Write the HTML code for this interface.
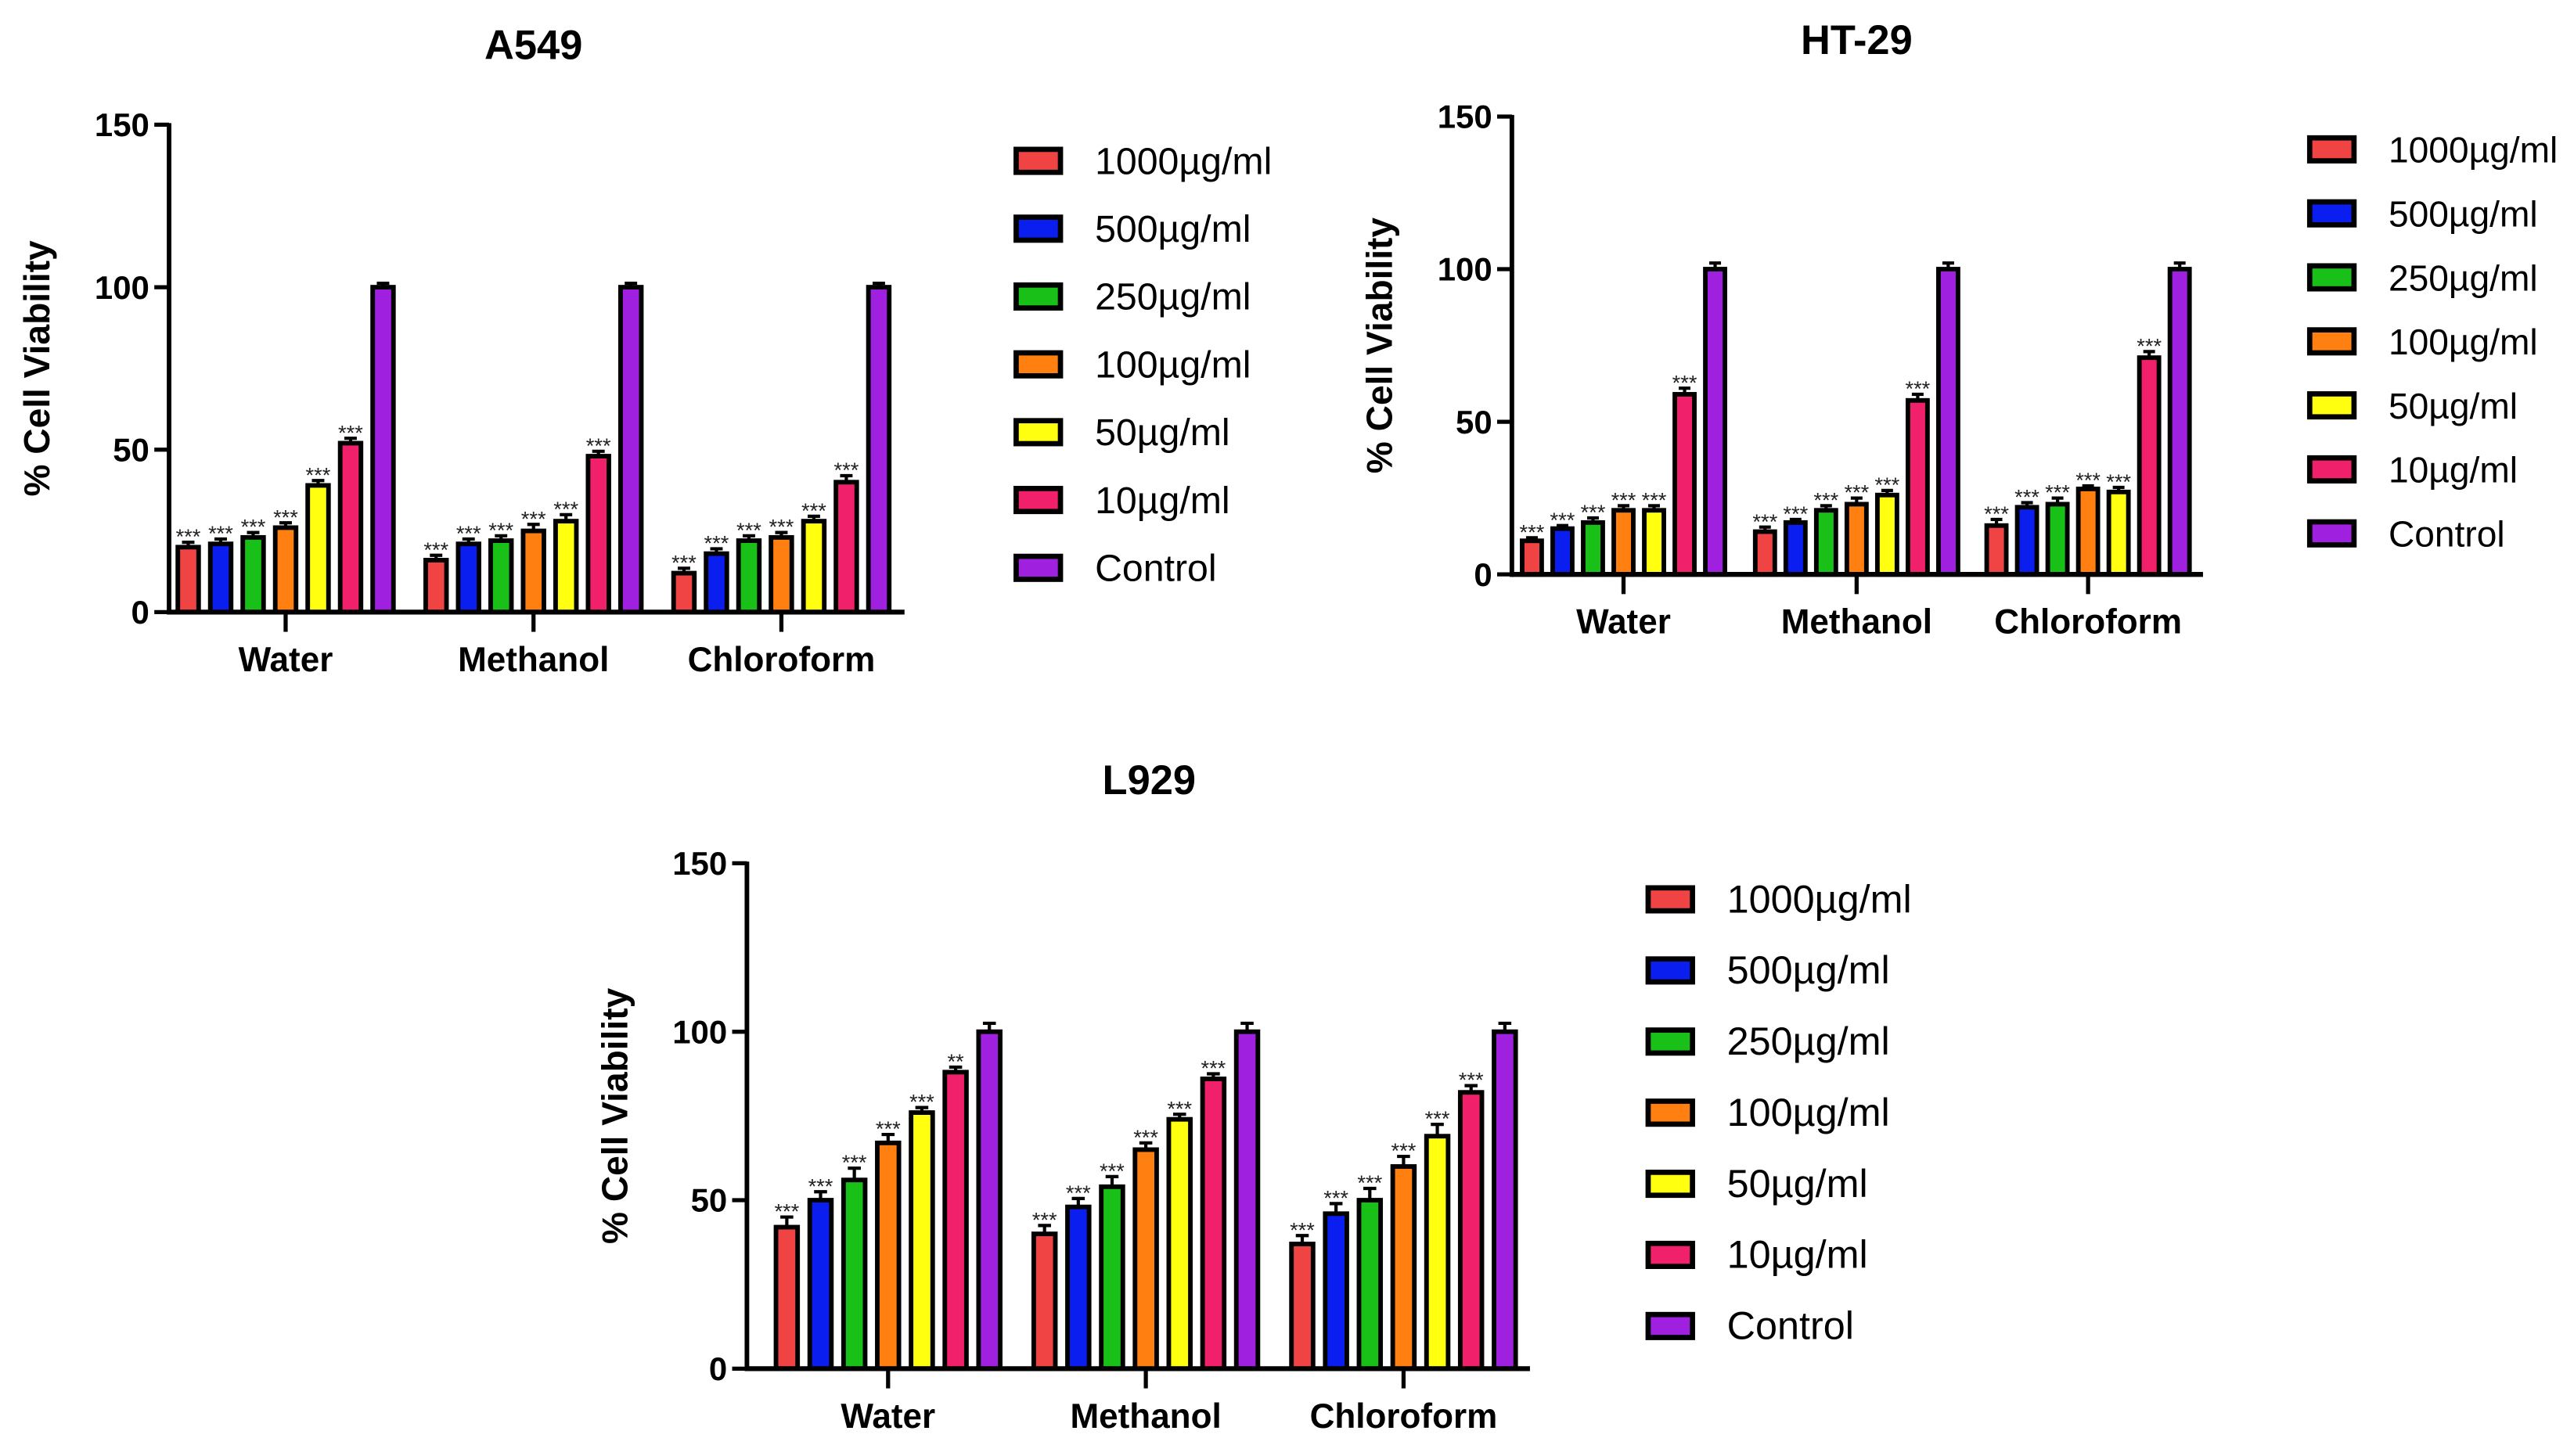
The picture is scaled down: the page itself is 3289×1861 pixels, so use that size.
<!DOCTYPE html>
<html><head><meta charset="utf-8"><style>
html,body{margin:0;padding:0;background:#fff;}
svg{display:block;font-family:"Liberation Sans",sans-serif;}
</style></head><body>
<svg id="fig" width="3289" height="1861" viewBox="0 0 1568 887.2" xmlns="http://www.w3.org/2000/svg"></svg>
<script>
const seriesNames = ["1000µg/ml","500µg/ml","250µg/ml","100µg/ml","50µg/ml","10µg/ml","Control"];
const seriesColors = ["#f04444","#0a1ef0","#18c018","#ff8010","#ffff10","#f0206a","#a020e0"];
const categories = ["Water","Methanol","Chloroform"];
const yTicks = [0,50,100,150];
const a549Values = [[20,21,23,26,39,52,100],[16,21,22,25,28,48,100],[12,18,22,23,28,40,100]];
const a549Errors = [[1.5,1.5,1.5,1.5,1.5,1.5,1.2],[1.5,1.5,1.5,2,2,1.5,1.2],[1.5,1.5,1.5,1.5,1.5,2,1.2]];
const a549Stars = [["***","***","***","***","***","***",""],["***","***","***","***","***","***",""],["***","***","***","***","***","***",""]];
const ht29Values = [[11,15,17,21,21,59,100],[14,17,21,23,26,57,100],[16,22,23,28,27,71,100]];
const ht29Errors = [[1,1,1.5,1.5,1.5,2,2],[1.5,1,1.5,2,1.5,2,2],[2,1.5,2,1,1.5,2,2]];
const ht29Stars = [["***","***","***","***","***","***",""],["***","***","***","***","***","***",""],["***","***","***","***","***","***",""]];
const l929Values = [[42,50,56,67,76,88,100],[40,48,54,65,74,86,100],[37,46,50,60,69,82,100]];
const l929Errors = [[3,2.5,3.5,2.5,1.5,1.5,2.5],[2.5,2.5,3,2,1.5,1.5,2.5],[2.5,3,3.5,3,3.5,2,2.5]];
const l929Stars = [["***","***","***","***","***","**",""],["***","***","***","***","***","***",""],["***","***","***","***","***","***",""]];

const NS="http://www.w3.org/2000/svg";
const svg=document.getElementById('fig');
function mk(tag,attrs,parent,text){const e=document.createElementNS(NS,tag);for(const k in attrs)e.setAttribute(k,attrs[k]);if(text!==undefined)e.textContent=text;(parent||svg).appendChild(e);return e;}

function chart(cfg,values,errors,stars){
  const g=mk('g',{});
  
  
  const y=v=>cfg.y0-(v/150)*(cfg.y0-cfg.y150);
  const spacing=cfg.centers[1]-cfg.centers[0];
  const step=spacing*0.131, bw=step*0.64;
  const t=mk('text',{x:cfg.titleX,y:cfg.titleY,'text-anchor':'middle','font-size':25,'font-weight':'bold'},g,cfg.title);
  
  
  const yt=mk('text',{transform:`translate(${cfg.ax-73},${(cfg.y0+cfg.y150)/2}) rotate(-90)`,'text-anchor':'middle','font-size':22,'font-weight':'bold'},g,'% Cell Viability');
  
  
  yTicks.forEach(v=>{
    mk('line',{x1:cfg.ax-9,x2:cfg.ax,y1:y(v),y2:y(v),stroke:'#000','stroke-width':2.5},g);
    const tl=mk('text',{x:cfg.ax-12,y:y(v)+7,'text-anchor':'end','font-size':20,'font-weight':'bold'},g,String(v));
    
    
  });
  categories.forEach((c,ci)=>{
    const cx=cfg.centers[ci];
    values[ci].forEach((v,si)=>{
      const bx=cx+(si-3)*step-bw/2;
      const e=errors[ci][si];
      mk('line',{x1:bx+bw/2,x2:bx+bw/2,y1:y(v),y2:y(v+e),stroke:'#000','stroke-width':2},g);
      mk('line',{x1:bx+bw*0.2,x2:bx+bw*0.8,y1:y(v+e),y2:y(v+e),stroke:'#000','stroke-width':2},g);
      const r=mk('rect',{x:bx,y:y(v),width:bw,height:y(0)-y(v),fill:seriesColors[si],stroke:'#000','stroke-width':2.8},g);
      
      
      if(stars[ci][si]){
        const s=mk('text',{x:bx+bw/2,y:y(v+e)+1,'text-anchor':'middle','font-size':13,fill:'#222'},g,stars[ci][si]);
        
        
      }
    });
    mk('line',{x1:cx,x2:cx,y1:cfg.y0,y2:cfg.y0+12,stroke:'#000','stroke-width':2.5},g);
    const cl=mk('text',{x:cx,y:cfg.y0+36,'text-anchor':'middle','font-size':21,'font-weight':'bold'},g,c);
    
    
  });
  const ya=mk('line',{x1:cfg.ax,x2:cfg.ax,y1:cfg.y150-1,y2:cfg.y0+1.5,stroke:'#000','stroke-width':2.8},g);
  
  
  const xa=mk('line',{x1:cfg.ax,x2:cfg.axEnd,y1:cfg.y0,y2:cfg.y0,stroke:'#000','stroke-width':3},g);
  
  
  seriesNames.forEach((n,i)=>{
    const ly=cfg.legY[0]+(cfg.legY[1]-cfg.legY[0])*i/6;
    const le=mk('g',{},g);
    
    
    mk('rect',{x:cfg.legX,y:ly-7,width:27,height:14,fill:seriesColors[i],stroke:'#000','stroke-width':3.2},le);
    mk('text',{x:cfg.legX+48,y:ly+8,'font-size':cfg.legFont},le,n);
  });
}
chart({id:'a549',title:'A549',titleX:325,titleY:36,ax:103,axEnd:551,y0:373,y150:76,centers:[174,325,476],legX:619,legY:[98,346],legFont:23},a549Values,a549Errors,a549Stars);
chart({id:'ht29',title:'HT-29',titleX:1131,titleY:33,ax:921,axEnd:1342,y0:350,y150:71,centers:[989,1131,1272],legX:1407,legY:[91,325],legFont:22},ht29Values,ht29Errors,ht29Stars);
chart({id:'l929',title:'L929',titleX:700,titleY:484,ax:455,axEnd:932,y0:834,y150:526,centers:[541,698,855],legX:1004,legY:[548,808],legFont:24},l929Values,l929Errors,l929Stars);
</script>
</body></html>
